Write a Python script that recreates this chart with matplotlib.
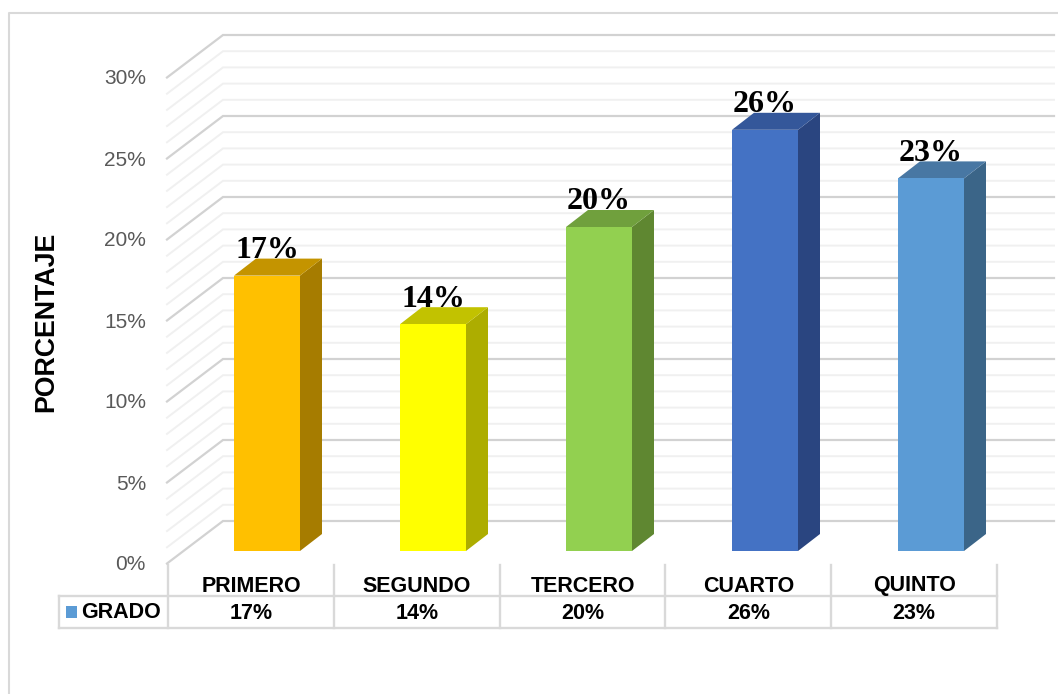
import numpy as np
import matplotlib
matplotlib.use('Agg')
import matplotlib.pyplot as plt
from matplotlib.patches import Polygon

categories = ['PRIMERO', 'SEGUNDO', 'TERCERO', 'CUARTO', 'QUINTO']
values = [17, 14, 20, 26, 23]
y_ticks = [0, 5, 10, 15, 20, 25, 30]
front_colors = ['#FFC000', '#FFFF00', '#92D050', '#4472C4', '#5B9BD5']
side_colors = ['#A67C00', '#ADAD00', '#5F8731', '#2A4580', '#3B6588']
top_colors = ['#C49400', '#C2C200', '#70A03D', '#34579A', '#4877A3']

W, H = 1058, 694
x_px = 166.0    # px per category
y_px = 16.2     # px per percent
x0_px, y0_px = 267.0, 551.0  # where category 0 / 0% sits for the bars


# pixel position of the image -> data coords
def dx(p):
    return (p - x0_px) / x_px


def dy(p):
    return (y0_px - p) / y_px


fig = plt.figure(figsize=(W / 100, H / 100), dpi=100)
ax = fig.add_axes([0, 0, 1, 1])
ax.set_xlim(dx(0), dx(W))
ax.set_ylim(dy(H), dy(0))
ax.axis('off')

major_c = '#D2D2D2'
minor_c = '#F0F0F0'

# outer chart border
ax.plot([dx(9), dx(9), dx(W)], [dy(H), dy(13), dy(13)], color='#D9D9D9', lw=1.5, zorder=1)

# gridlines on the back and side walls
wall_front, wall_back, wall_right = dx(167), dx(223), dx(1054)
y_front, y_back = dy(563.5), dy(521)
for v in range(31):
    major = v % 5 == 0
    ax.plot([wall_front, wall_back, wall_right], [y_front + v, y_back + v, y_back + v],
            color=major_c if major else minor_c, lw=1.6 if major else 1.4,
            zorder=3 if major else 2, solid_joinstyle='miter')

for t in y_ticks:
    ax.text(dx(146), y_front + t - 1.5 / y_px, '%d%%' % t, ha='right', va='center', fontsize=15,
            color='#595959', family='Liberation Sans')

ax.text(dx(46.5), dy(322), 'PORCENTAJE', rotation=90, ha='center', va='center', fontsize=19.3,
        fontweight='bold', color='black', family='Liberation Sans')

# bars
x = np.arange(len(categories))
bar_w = 66 / x_px
depth_x = 22 / x_px
depth_y = 17 / y_px
ax.bar(x, values, width=bar_w, color=front_colors, zorder=6, linewidth=0)
for i, v in enumerate(values):
    r = x[i] + bar_w / 2
    l = x[i] - bar_w / 2
    ax.add_patch(Polygon([(r, 0), (r + depth_x, depth_y), (r + depth_x, v + depth_y), (r, v)],
                         closed=True, fc=side_colors[i], ec='none', zorder=5))
    ax.add_patch(Polygon([(l, v), (l + depth_x, v + depth_y), (r + depth_x, v + depth_y), (r, v)],
                         closed=True, fc=top_colors[i], ec='none', zorder=5))
    ax.text(x[i], v + 1.55, '%d%%' % v, ha='center', va='center', fontsize=23, fontweight='bold',
            color='black', family='Liberation Serif', zorder=8)

# data table below the plot, its columns are offset from the bars
table_c = '#D9D9D9'
col_left, col_px = 168.0, 166.0
row_top, row_mid, row_bot = dy(565), dy(596), dy(628)
ax.plot([dx(59), dx(997)], [row_mid, row_mid], color=table_c, lw=1.7, zorder=1)
ax.plot([dx(59), dx(997)], [row_bot, row_bot], color=table_c, lw=1.7, zorder=1)
ax.plot([dx(59), dx(59)], [row_mid, row_bot], color=table_c, lw=1.7, zorder=1)
for i in range(len(categories) + 1):
    edge = dx(col_left + i * col_px - (i * 0.2))
    ax.plot([edge, edge], [row_top, row_bot], color=table_c, lw=1.7, zorder=1)
for i, c in enumerate(categories):
    center = dx(col_left + (i + 0.5) * col_px - (i * 0.2))
    ax.text(center, dy(586), c, ha='center', va='center', fontsize=15.5, fontweight='bold',
            color='black', family='Liberation Sans')
    ax.text(center, dy(613.5), '%d%%' % values[i], ha='center', va='center', fontsize=15.5,
            fontweight='bold', color='black', family='Liberation Sans')
ax.add_patch(Polygon([(dx(66), dy(606)), (dx(77), dy(606)), (dx(77), dy(618)), (dx(66), dy(618))],
                     closed=True, fc='#5B9BD5', ec='none'))
ax.text(dx(81), dy(613), 'GRADO', ha='left', va='center', fontsize=15.5, fontweight='bold',
        color='black', family='Liberation Sans')

fig.savefig('out.png', dpi=100, facecolor='white')
